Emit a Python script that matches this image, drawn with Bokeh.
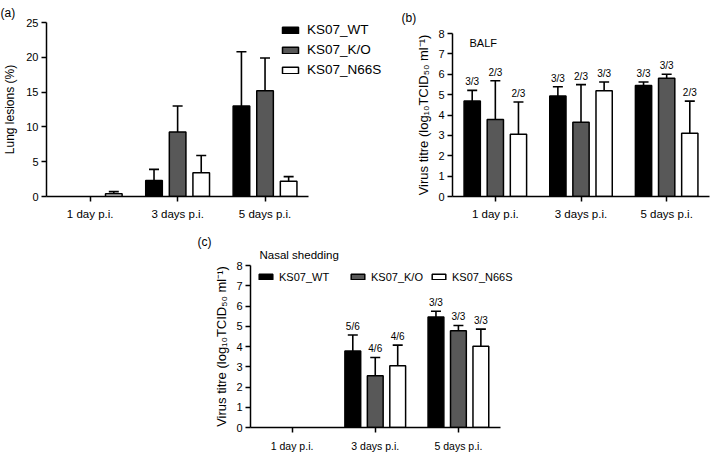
from bokeh.plotting import figure
from bokeh.models import (ColumnDataSource, Range1d, FixedTicker, Whisker, TeeHead,
                          Legend, LegendItem, Title, Spacer)
from bokeh.layouts import row, column
from bokeh.embed import file_html
from bokeh.resources import INLINE
from bokeh.core.properties import value

# ---------------- data ----------------
days = ["1 day p.i.", "3 days p.i.", "5 days p.i."]
strains = ["KS07_WT", "KS07_K/O", "KS07_N66S"]
fills = ["#000000", "#585858", "#ffffff"]

# (a) lung lesions (%)
lesion_wt = [0.0, 2.3, 13.0]
lesion_wt_sd = [0.0, 1.6, 7.8]
lesion_ko = [0.0, 9.25, 15.2]
lesion_ko_sd = [0.0, 3.75, 4.7]
lesion_n66s = [0.4, 3.4, 2.2]
lesion_n66s_sd = [0.3, 2.5, 0.65]
lesion_ticks = [0, 5, 10, 15, 20, 25]

# (b) BALF virus titre
balf_wt = [4.69, 4.93, 5.45]
balf_wt_sd = [0.52, 0.46, 0.17]
balf_ko = [3.78, 3.65, 5.80]
balf_ko_sd = [1.90, 1.84, 0.20]
balf_n66s = [3.05, 5.19, 3.10]
balf_n66s_sd = [1.59, 0.43, 1.58]
balf_wt_n = ["3/3", "3/3", "3/3"]
balf_ko_n = ["2/3", "2/3", "3/3"]
balf_n66s_n = ["2/3", "3/3", "2/3"]

# (c) nasal shedding virus titre
nasal_wt = [0.0, 3.78, 5.46]
nasal_wt_sd = [0.0, 0.79, 0.28]
nasal_ko = [0.0, 2.55, 4.78]
nasal_ko_sd = [0.0, 0.91, 0.26]
nasal_n66s = [0.0, 3.05, 4.01]
nasal_n66s_sd = [0.0, 1.02, 0.85]
nasal_wt_n = ["", "5/6", "3/3"]
nasal_ko_n = ["", "4/6", "3/3"]
nasal_n66s_n = ["", "4/6", "3/3"]

titre_ticks = [0, 1, 2, 3, 4, 5, 6, 7, 8]
titre_label = "Virus titre (log\u2081\u2080TCID\u2085\u2080 ml\u207b\u00b9)"

FONT = "Liberation Sans"
BAR_W = 0.19
OFFSETS = [-0.27, 0.0, 0.27]


def make_fig(width, height, left, right, top, bottom, axis_px, y_end, y_ticks,
             ylabel, ylabel_size, ylabel_standoff, xtick_size, ytick_size, xstandoff):
    frame_w = width - left - right
    frame_h = height - top - bottom
    x_end = -0.5 + 3.0 * frame_w / axis_px
    p = figure(width=width, height=height, output_backend="svg", toolbar_location=None,
               tools="", x_range=Range1d(-0.5, x_end), y_range=Range1d(0, y_end),
               min_border_left=left, min_border_right=right,
               min_border_top=top, min_border_bottom=bottom)
    p.frame_align = False
    p.outline_line_color = None
    p.xgrid.visible = False
    p.ygrid.visible = False
    p.border_fill_color = "white"
    p.background_fill_color = "white"
    xa = p.xaxis[0]
    xa.ticker = FixedTicker(ticks=[0, 1, 2])
    xa.major_label_overrides = {0: days[0], 1: days[1], 2: days[2]}
    xa.bounds = (-0.5, 2.5)
    ya = p.yaxis[0]
    ya.ticker = FixedTicker(ticks=y_ticks)
    ya.bounds = (0, y_end)
    for ax in (xa, ya):
        ax.axis_line_width = 1.5
        ax.axis_line_color = "black"
        ax.major_tick_line_width = 1.5
        ax.major_tick_line_color = "black"
        ax.major_tick_out = 5
        ax.major_tick_in = 0
        ax.minor_tick_line_color = None
        ax.major_label_text_font = FONT
        ax.major_label_text_color = "black"
    xa.major_label_text_font_size = xtick_size
    ya.major_label_text_font_size = ytick_size
    xa.major_label_standoff = xstandoff
    ya.major_label_standoff = 3
    ya.axis_label = ylabel
    ya.axis_label_text_font = FONT
    ya.axis_label_text_font_style = "normal"
    ya.axis_label_text_font_size = ylabel_size
    ya.axis_label_text_color = "black"
    ya.axis_label_standoff = ylabel_standoff
    kx = axis_px / 3.0
    ky = frame_h / y_end

    def to_data(dx, dy):
        # pixel offsets from the top-left corner of the frame -> data coords
        return -0.5 + dx / kx, y_end - dy / ky

    return p, frame_h, to_data


def add_series(p, means, sds, labels, label_size):
    rends = []
    for i in range(3):
        xs, tops, ups, labs = [], [], [], []
        for g in range(3):
            if means[i][g] > 0:
                xs.append(g + OFFSETS[i])
                tops.append(means[i][g])
                ups.append(means[i][g] + sds[i][g])
                labs.append(labels[i][g] if labels else "")
        src = ColumnDataSource(dict(x=xs, top=tops, upper=ups, lab=labs))
        r = p.vbar(x="x", top="top", bottom=0, width=BAR_W, source=src,
                   fill_color=fills[i], line_color="black", line_width=1.5)
        w = Whisker(source=src, base="x", upper="upper", lower="top",
                    line_color="black", line_width=1.6, level="annotation",
                    upper_head=TeeHead(size=10, line_width=1.6, line_color="black"),
                    lower_head=None)
        p.add_layout(w)
        if labels:
            p.text(x="x", y="upper", text="lab", source=src, text_align="center",
                   text_baseline="bottom", y_offset=-3, text_font=value(FONT),
                   text_font_size=label_size, text_color="black")
        rends.append(r)
    return rends


def heading(p, txt, offset, standoff, size="12px"):
    p.add_layout(Title(text=txt, align="left", offset=offset, standoff=standoff,
                       text_font=FONT, text_font_size=size, text_font_style="normal",
                       text_color="black"), "above")


# ---------------- panel (a) ----------------
pa, ha, ta = make_fig(395, 225, 45, 2, 20, 29, 263, 25, lesion_ticks,
                      "Lung lesions (%)", "12px", 6, "11.5px", "11px", 6)
ra = add_series(pa, [lesion_wt, lesion_ko, lesion_n66s],
                [lesion_wt_sd, lesion_ko_sd, lesion_n66s_sd], None, "10px")
leg_a = Legend(items=[LegendItem(label=strains[i], renderers=[ra[i]]) for i in range(3)],
               location=(234, 119), orientation="vertical",
               glyph_width=20, glyph_height=8, label_height=8, spacing=5,
               label_standoff=7, padding=0, margin=0, border_line_color=None,
               background_fill_alpha=0, label_text_font=FONT,
               label_text_font_size="13.5px", label_text_color="black")
pa.add_layout(leg_a)
heading(pa, "(a)", -46, 6)

# ---------------- panel (b) ----------------
pb, hb, tb = make_fig(317, 225, 57, 3, 31, 29, 257, 8, titre_ticks,
                      titre_label, "13px", 4, "11.5px", "11px", 6)
add_series(pb, [balf_wt, balf_ko, balf_n66s], [balf_wt_sd, balf_ko_sd, balf_n66s_sd],
           [balf_wt_n, balf_ko_n, balf_n66s_n], "10px")
bx, by = tb(17, 9.5)
pb.text(x=[bx], y=[by], text=["BALF"], text_font=value(FONT), text_font_size="11px",
        text_baseline="middle", text_align="left", text_color="black")
heading(pb, "(b)", -51, 17)

# ---------------- panel (c) ----------------
pc, hc, tc = make_fig(325, 229, 60, 2, 40, 24, 249.5, 8, titre_ticks,
                      titre_label, "13px", 4, "10.5px", "11px", 7)
rc = add_series(pc, [nasal_wt, nasal_ko, nasal_n66s], [nasal_wt_sd, nasal_ko_sd, nasal_n66s_sd],
                [nasal_wt_n, nasal_ko_n, nasal_n66s_n], "10px")
for i, lx in enumerate([7, 99, 180]):
    lg = Legend(items=[LegendItem(label=strains[i], renderers=[rc[i]])],
                location=(lx, hc - 20.5), orientation="horizontal",
                glyph_width=17, glyph_height=7, label_height=7, label_standoff=5,
                padding=0, margin=0, border_line_color=None, background_fill_alpha=0,
                label_text_font=FONT, label_text_font_size="11px", label_text_color="black")
    pc.add_layout(lg)
heading(pc, "Nasal shedding", 9, 10, "11.5px")
heading(pc, "(c)", -53, -15)

layout = column(row(pa, pb), row(Spacer(width=190, height=229), pc))

open("out.html", "w").write(file_html(layout, INLINE))
